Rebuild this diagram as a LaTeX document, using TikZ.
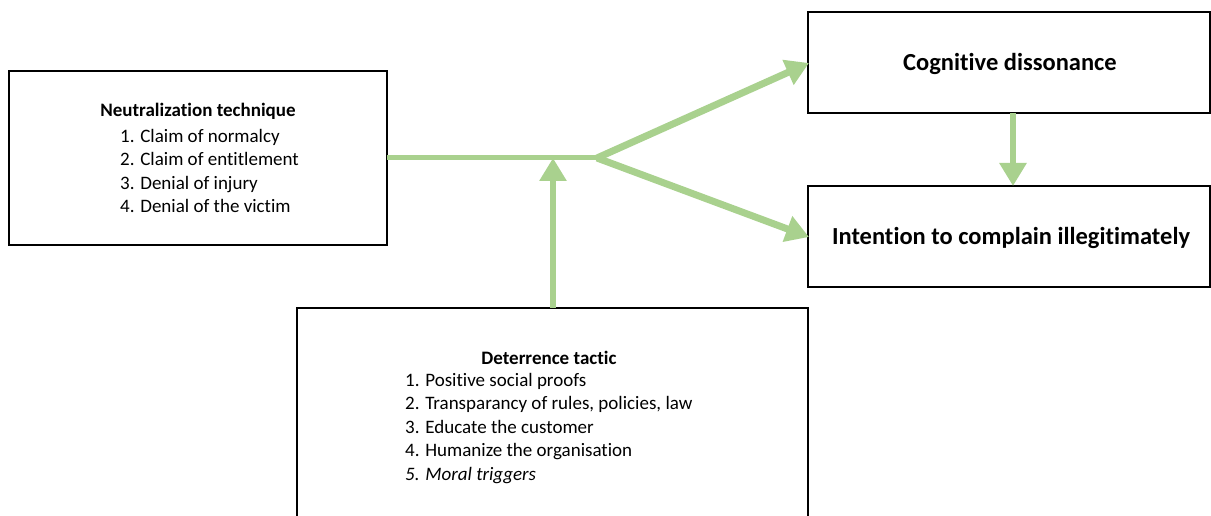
\documentclass[tikz,border=0pt]{standalone}
\usepackage{fontspec}
\setmainfont{Carlito}[Ligatures=NoCommon]
\usetikzlibrary{arrows.meta}
\definecolor{arrgreen}{HTML}{A9D18E}
\tikzset{
  box/.style={draw=black, line width=1.6pt, fill=none},
  title/.style={inner sep=0pt, font=\fontsize{19}{23}\selectfont\bfseries},
  bigtitle/.style={inner sep=0pt, font=\fontsize{24.5}{29}\selectfont\bfseries},
  listtxt/.style={inner sep=0pt, align=left, anchor=west, font=\fontsize{19}{23.5}\selectfont},
  flow/.style={draw=arrgreen, line width=6pt},
  flowarrow/.style={flow, -{Triangle[length=23pt, width=26pt]}},
}
\begin{document}
\begin{tikzpicture}[x=1pt, y=-1pt]
\useasboundingbox (0,0) rectangle (1211,516);
\clip (0,0) rectangle (1211,516);
\fill[white] (0,0) rectangle (1211,516);
% boxes
\draw[box] (9,71) rectangle (387,245);
\coordinate (nbE) at (387,158);
\draw[box] (808,12) rectangle (1210,113);
\draw[box] (808,186) rectangle (1210,287);
\draw[box] (297,308) rectangle (808,540);
% texts
\node[title] (ntitle) at (198,111.5) {Neutralization technique};
\node[listtxt] (nlist) at (120,171) {1. Claim of normalcy\\2. Claim of entitlement\\3. Denial of injury\\4. Denial of the victim};
\node[bigtitle] (cdt) at (1010,63.5) {Cognitive dissonance};
\node[bigtitle] (itt) at (1011,238) {Intention to complain illegitimately};
\node[title] (dtitle) at (549,358) {Deterrence tactic};
\node[listtxt] (dlist) at (405,428.5) {1. Positive social proofs\\2. Transparancy of rules, policies, law\\3. Educate the customer\\4. Humanize the organisation\\\textit{5. Moral triggers}};
% connectors
\coordinate (junc) at (597,158);
\coordinate (cdW) at (809,63);
\coordinate (itW) at (809,237);
\coordinate (dtN) at (553,308);
\coordinate (joinpt) at (553,158);
\coordinate (cdS) at (1013,113);
\coordinate (itN) at (1013,186);
\draw[draw=arrgreen, line width=5pt] (nbE) -- (junc);
\draw[flowarrow, line width=7pt] (junc) -- (cdW);
\draw[flowarrow, line width=7pt] (junc) -- (itW);
\draw[flowarrow] (dtN) -- (joinpt);
\draw[flowarrow] (cdS) -- (itN);
\end{tikzpicture}
\end{document}
